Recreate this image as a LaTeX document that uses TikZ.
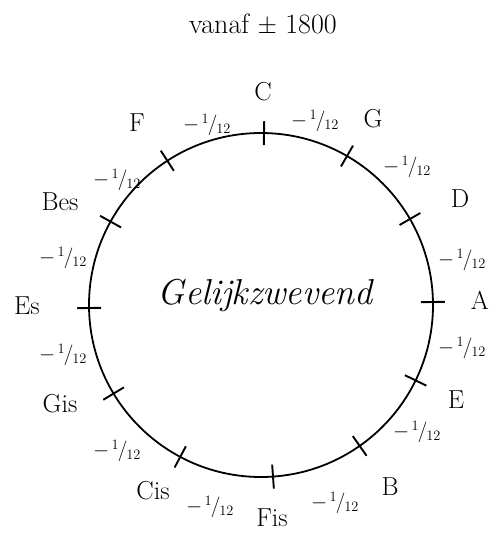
\documentclass[tikz,border=0pt]{standalone}
\usepackage{fontspec}
\usetikzlibrary{calc}
\newcommand\minfrac{$-\mkern2mu{}^{1}\mkern-1mu/\mkern-1mu{}_{12}$}
\begin{document}
\begin{tikzpicture}[x=1pt,y=-1pt,
  lbl/.style={font=\fontsize{26}{28}\selectfont, inner sep=0pt},
  frc/.style={font=\fontsize{21}{22}\selectfont, inner sep=0pt},
  ring/.style={line width=1.8pt},
  tick/.style={line width=1.9pt}]
\useasboundingbox (0,0) rectangle (490,535);
\coordinate (c) at (261,305);
\draw[ring] (c) circle[radius=172pt];
\foreach \a in {89,60,30,1,-26,-55,-86,-118,-149,181,151,123}
  \draw[tick] ($(c)+(\a:160pt)$) -- ($(c)+(\a:184pt)$);
\node[font=\fontsize{28}{30}\selectfont, inner sep=0pt] (title) at (263,25) {vanaf $\pm$ 1800};
\node[lbl] (C) at (263,92) {C};
\node[lbl] (G) at (373,119) {G};
\node[lbl] (D) at (460,199) {D};
\node[lbl] (A) at (480,300) {A};
\node[lbl] (E) at (456,400) {E};
\node[lbl] (B) at (390,487) {B};
\node[lbl] (Fis) at (272,518) {Fis};
\node[lbl] (Cis) at (153,491) {Cis};
\node[lbl] (Gis) at (60,404) {Gis};
\node[lbl] (Es) at (27,306) {Es};
\node[lbl] (Bes) at (60,202) {Bes};
\node[lbl] (F) at (137,123) {F};
\node[frc] (f1) at (315,121) {\minfrac};
\node[frc] (f2) at (407,167) {\minfrac};
\node[frc] (f3) at (462,260) {\minfrac};
\node[frc] (f4) at (462,348) {\minfrac};
\node[frc] (f5) at (417,432) {\minfrac};
\node[frc] (f6) at (335,503) {\minfrac};
\node[frc] (f7) at (210,507) {\minfrac};
\node[frc] (f8) at (117,451) {\minfrac};
\node[frc] (f9) at (63,355) {\minfrac};
\node[frc] (f10) at (63,258) {\minfrac};
\node[frc] (f11) at (117,180) {\minfrac};
\node[frc] (f12) at (207,125) {\minfrac};
\node[font=\fontsize{36}{38}\selectfont\itshape, inner sep=0pt] (gz) at (265,295) {Gelijkzwevend};
\end{tikzpicture}
\end{document}
